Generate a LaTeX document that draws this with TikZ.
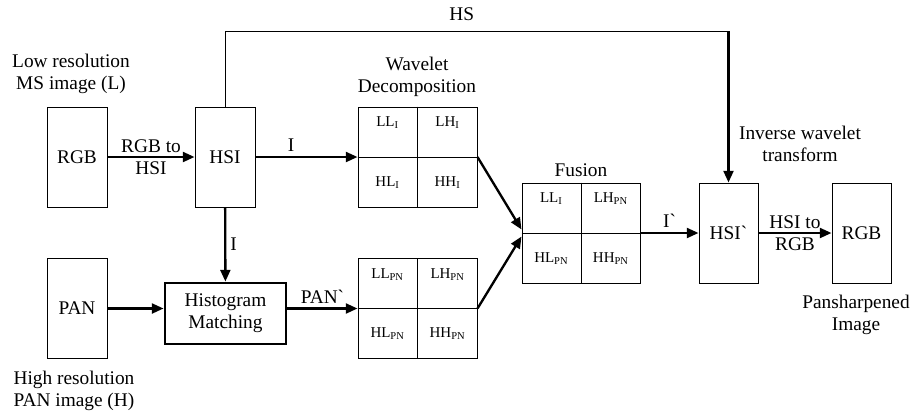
\documentclass[tikz,border=0pt]{standalone}
\usepackage{fontspec}
\setmainfont{Liberation Serif}
\usetikzlibrary{arrows.meta,calc}

\newcommand{\quadcells}[5]{%
    \draw[thinline] (#1.north) -- (#1.south) (#1.west) -- (#1.east);
    \node[cell, yshift=0.27cm] (#1-tl) at ($(#1.center)!0.5!(#1.north west)$) {#2};
    \node[cell, yshift=0.27cm] (#1-tr) at ($(#1.center)!0.5!(#1.north east)$) {#3};
    \node[cell] (#1-bl) at ($(#1.center)!0.5!(#1.south west)$) {#4};
    \node[cell] (#1-br) at ($(#1.center)!0.5!(#1.south east)$) {#5};
}

\begin{document}
\begin{tikzpicture}[x=0.03cm, y=-0.03cm,
    font=\fontsize{16.5}{19}\selectfont,
    thinline/.style={line width=0.85pt},
    arr/.style={line width=2pt, -{Triangle[length=10pt,width=8.5pt]}},
    blk/.style={draw, thinline, inner sep=0pt, minimum width=1.8cm, minimum height=3cm},
    quad/.style={draw, thinline, inner sep=0pt, minimum width=3.57cm, minimum height=3cm},
    cell/.style={font=\fontsize{12.8}{15}\selectfont, inner sep=1pt}]
    \useasboundingbox (0,0) rectangle (914,415);

    \node[blk] (rgbL) at (77,157) {RGB};
    \node[blk] (hsi) at (225,157) {HSI};
    \node[blk] (pan) at (77,308.5) {PAN};
    \node[draw, line width=2.5pt, inner sep=0pt, minimum width=3.63cm, minimum height=1.83cm, align=center] (hist) at (225.5,313.5) {Histogram\\Matching};
    \node[quad] (wt) at (417.5,157) {};
    \node[quad] (wb) at (417.5,308.5) {};
    \node[quad, minimum width=3.54cm] (fus) at (581,233) {};
    \node[blk, minimum width=1.77cm] (hsi2) at (728.5,233) {HSI\textasciigrave};
    \node[blk, minimum width=1.77cm] (rgbR) at (861.5,233) {RGB};

    \quadcells{wt}{LL\textsubscript{I}}{LH\textsubscript{I}}{HL\textsubscript{I}}{HH\textsubscript{I}}
    \quadcells{wb}{LL\textsubscript{PN}}{LH\textsubscript{PN}}{HL\textsubscript{PN}}{HH\textsubscript{PN}}
    \quadcells{fus}{LL\textsubscript{I}}{LH\textsubscript{PN}}{HL\textsubscript{PN}}{HH\textsubscript{PN}}

    \node[align=center] (lowlab) at (71,74) {Low resolution\\MS image (L)};
    \node[align=center] (highlab) at (74,391) {High resolution\\PAN image (H)};
    \node[align=center] (wavlab) at (417,77) {Wavelet\\Decomposition};
    \node (fuslab) at (581,170) {Fusion};
    \node[align=center] (invlab) at (800,144) {Inverse wavelet\\transform};
    \node[align=center] (panslab) at (856,315) {Pansharpened\\Image};

    \coordinate (hsbend) at (hsi2.north |- 0,31);
    \draw[thinline] (hsi.north) |- (hsbend) node[pos=0.735, above=5pt] {HS};
    \draw[arr] (hsbend) -- (hsi2);

    \draw[arr] (rgbL) -- (hsi) node[midway, align=center] {RGB to\\HSI};
    \draw[arr] (hsi) -- (wt) node[pos=0.35, above] {I};
    \draw[arr] (hsi) -- (hist) node[midway, right] {I};
    \draw[arr] (pan.east) -- (pan.east -| hist.west);
    \draw[arr] (hist.east |- wb.west) -- (wb.west) node[midway, above] {PAN\textasciigrave};
    \draw[arr] (wt.east) -- ([yshift=3pt]fus.west);
    \draw[arr] (wb.east) -- ([yshift=-3pt]fus.west);
    \draw[arr] (fus) -- (hsi2) node[midway, above] {I\textasciigrave};
    \draw[arr] (hsi2) -- (rgbR) node[midway, align=center] {HSI to\\RGB};
\end{tikzpicture}
\end{document}
